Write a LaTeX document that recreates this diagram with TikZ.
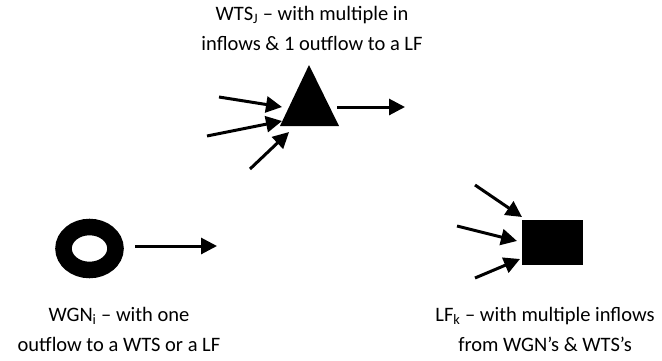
\documentclass[tikz,border=0pt]{standalone}
\usepackage{fontspec}
\setmainfont{Carlito}
\usetikzlibrary{arrows.meta}
\begin{document}
\begin{tikzpicture}[x=1pt,y=-1pt,
  flow/.style={line width=3pt,-{Triangle[length=16pt,width=16pt]}},
  label/.style={align=center,inner sep=0pt,anchor=base,
    font=\fontsize{20.5}{30}\selectfont},
  blk/.style={fill=black,draw=none}]
\useasboundingbox (0,0) rectangle (662,360);

% transfer station: filled triangle
\fill[blk] (309,65) coordinate (wtsTop) -- (339,126) coordinate (wtsR)
  -- (280,126) coordinate (wtsL) -- cycle;
\coordinate (wtsOut) at (337,107);
\coordinate (wtsIn1) at (282,107);
\coordinate (wtsIn2) at (282,121);
\coordinate (wtsIn3) at (289,132);
\coordinate (wtsSrc1) at (219,97);
\coordinate (wtsSrc2) at (207,136);
\coordinate (wtsSrc3) at (250,169);
\coordinate (wtsDst) at (405,107);
\draw[flow] (wtsSrc1) -- (wtsIn1);
\draw[flow] (wtsSrc2) -- (wtsIn2);
\draw[flow] (wtsSrc3) -- (wtsIn3);
\draw[flow] (wtsOut) -- (wtsDst);
% base anchor of a multi-line node sits on its last line
\node[label] (wtsLabel) at (312,50.7)
  {WTS\textsubscript{J} – with multiple in\\inflows \& 1 outflow to a LF};

% generation node: ring
\draw[line width=16.5pt] (89.5,248.5) ellipse [x radius=26, y radius=21.5];
\coordinate (wgnOut) at (135,246);
\coordinate (wgnDst) at (217,246);
\draw[flow] (wgnOut) -- (wgnDst);
\node[label] (wgnLabel) at (119,351.7)
  {WGN\textsubscript{i} – with one\\outflow to a WTS or a LF};

% landfill: filled rectangle
\node[blk,minimum width=61pt,minimum height=45pt,inner sep=0pt] (lf) at (552.5,242.5) {};
\coordinate (lfSrc1) at (475,185);
\coordinate (lfSrc2) at (457,226);
\coordinate (lfSrc3) at (475,278);
\coordinate (lfIn1) at (522,217);
\coordinate (lfIn2) at (517,241);
\coordinate (lfIn3) at (520,259);
\draw[flow] (lfSrc1) -- (lfIn1);
\draw[flow] (lfSrc2) -- (lfIn2);
\draw[flow] (lfSrc3) -- (lfIn3);
\node[label] (lfLabel) at (545,351.7)
  {LF\textsubscript{k} – with multiple inflows\\from WGN’s \& WTS’s};
\end{tikzpicture}
\end{document}
